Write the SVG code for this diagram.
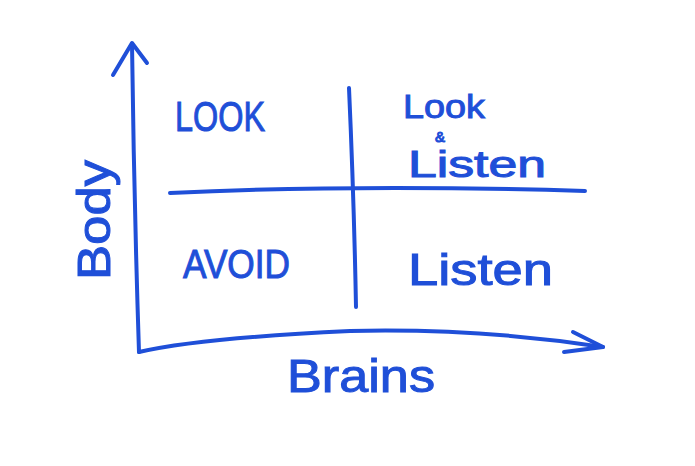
<svg xmlns="http://www.w3.org/2000/svg" width="695" height="466" viewBox="0 0 695 466">
<style>
.ln{fill:none;stroke:#1f4fd8;stroke-width:4;stroke-linecap:round;stroke-linejoin:round}
.t{fill:#1f4fd8;stroke:#1f4fd8;stroke-width:1;font-family:"Liberation Sans",Arial,sans-serif;font-weight:normal}
</style>
<rect width="695" height="466" fill="#fff"/>
<g id="connectors">
<path class="ln" d="M139,352 Q134,200 132,44"/>
<path class="ln" d="M113,75 L132,43 L147,63"/>
<path class="ln" d="M139,352 Q200,338 350,331 Q480,328 603,347"/>
<path class="ln" d="M573,332 L603,347 L564,352"/>
<path class="ln" d="M170,193 Q360,184 585,191"/>
<path class="ln" d="M349,88 Q354,200 356,307"/>
</g>
<g id="look"><text class="t" x="175" y="131" font-size="42" textLength="90" lengthAdjust="spacingAndGlyphs">LOOK</text></g>
<g id="avoid"><text class="t" x="183" y="278" font-size="40" textLength="107" lengthAdjust="spacingAndGlyphs">AVOID</text></g>
<g id="look-listen">
<text class="t" x="403" y="118" font-size="34" textLength="82" lengthAdjust="spacingAndGlyphs">Look</text>
<text class="t" x="435" y="142" font-size="15">&amp;</text>
<text class="t" x="408" y="177" font-size="36" textLength="138" lengthAdjust="spacingAndGlyphs">Listen</text>
</g>
<g id="listen"><text class="t" x="408" y="285" font-size="44" textLength="145" lengthAdjust="spacingAndGlyphs">Listen</text></g>
<g id="body"><text class="t" transform="translate(110,280) rotate(-90)" x="0" y="0" font-size="46" textLength="120" lengthAdjust="spacingAndGlyphs">Body</text></g>
<g id="brains"><text class="t" x="287" y="392" font-size="46" textLength="148" lengthAdjust="spacingAndGlyphs">Brains</text></g>
</svg>
